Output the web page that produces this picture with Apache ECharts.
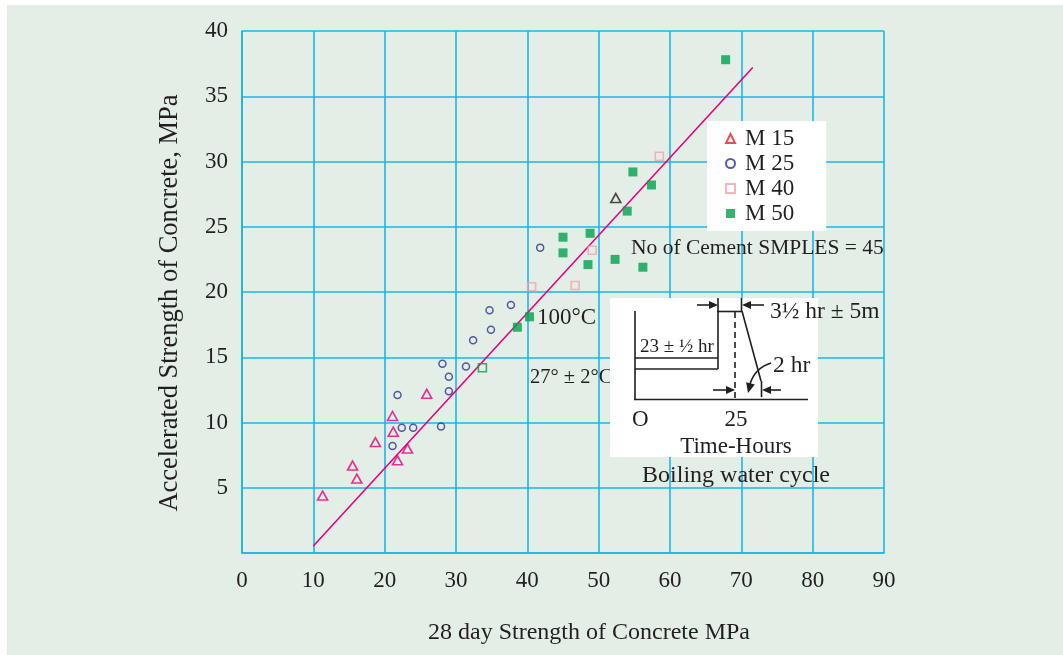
<!DOCTYPE html>
<html>
<head>
<meta charset="utf-8">
<script src="https://cdn.jsdelivr.net/npm/echarts@6/dist/echarts.min.js"></script>
<style>
html,body{margin:0;padding:0;background:#fff;}
#chart{width:1063px;height:655px;
background: linear-gradient(#fff,#fff) top left/100% 5px no-repeat, linear-gradient(#fff,#fff) top left/7px 100% no-repeat, #e3efe6;}
</style>
</head>
<body>
<div id="chart"></div>
<script>
// ---- data (x = 28 day strength MPa, y = accelerated strength MPa) ----
const m15 = [[25.9,12.2],[21.1,10.5],[21.2,9.3],[18.7,8.5],[23.2,8.0],[21.8,7.1],[15.5,6.7],[16.1,5.7],[11.3,4.4]];
const m15Odd = [[52.4,27.2]];
const m25 = [[34.7,18.6],[37.7,19.0],[34.9,17.1],[32.4,16.3],[28.1,14.5],[31.4,14.3],[29.0,13.5],[29.0,12.4],[21.8,12.1],[22.4,9.6],[24.0,9.6],[27.9,9.7],[21.1,8.2],[41.8,23.4]];
const m40 = [[58.5,30.4],[40.6,20.4],[46.7,20.5],[49.1,23.2]];
const m50 = [[67.8,37.8],[54.8,29.2],[57.4,28.2],[54.0,26.2],[48.8,24.5],[45.0,24.2],[45.0,23.0],[48.5,22.1],[52.3,22.5],[56.2,21.9],[40.3,18.1],[38.6,17.3]];
const m50Hollow = [[33.7,14.2]];
const fitLine = [[10.0,0.54],[71.6,37.2]];
const xTicks = [0,10,20,30,40,50,60,70,80,90];
const yTicks = [0,5,10,15,20,25,30,35,40];

const FONT = '"Liberation Serif", "DejaVu Serif", serif';
const TXT = '#231f20';
const BLUE = '#1cb4ea';

function arrowHead(tipX, tipY, dx, dy, len, half){
  const bx = tipX - dx*len, by = tipY - dy*len;
  const px = -dy, py = dx;
  return {type:'polygon', z:110, shape:{points:[[tipX,tipY],[bx+px*half,by+py*half],[bx-px*half,by-py*half]]}, style:{fill:'#231f20'}};
}
function line(x1,y1,x2,y2,extra){
  return Object.assign({type:'line', z:105, shape:{x1,y1,x2,y2}, style:{stroke:'#231f20', lineWidth:1.6}}, extra||{});
}
function text(str,x,y,size,align,extra){
  return Object.assign({type:'text', z:110, x, y, style:{text:str, font:size+'px '+FONT, fill:TXT, align:align||'left', verticalAlign:'middle'}}, extra||{});
}

const chart = echarts.init(document.getElementById('chart'));
const option = {
  backgroundColor: 'transparent',
  animation: false,
  grid: {left:242, top:31, width:642, height:522},
  xAxis: {
    type:'value', min:xTicks[0], max:xTicks[xTicks.length-1], interval:10,
    name:'28 day Strength of Concrete MPa', nameLocation:'middle', nameGap:68,
    nameTextStyle:{fontFamily:FONT, fontSize:24, color:TXT, padding:[0,0,0,52]},
    axisLine:{lineStyle:{color:BLUE, width:1.6}}, axisTick:{show:false},
    axisLabel:{fontFamily:FONT, fontSize:23, color:TXT, margin:16},
    splitLine:{lineStyle:{color:BLUE, width:1.6}}
  },
  yAxis: {
    type:'value', min:yTicks[0], max:yTicks[yTicks.length-1], interval:5,
    name:'Accelerated Strength of Concrete, MPa', nameLocation:'middle', nameGap:58,
    nameTextStyle:{fontFamily:FONT, fontSize:26.5, color:TXT, padding:[0,22,0,0]},
    axisLine:{show:true, lineStyle:{color:BLUE, width:1.6}}, axisTick:{show:false},
    axisLabel:{fontFamily:FONT, fontSize:23, color:TXT, margin:14, showMinLabel:false},
    splitLine:{lineStyle:{color:BLUE, width:1.6}}
  },
  legend: {
    orient:'vertical', left:707, top:121, width:119,
    backgroundColor:'#ffffff', padding:[6,32,6,18], itemGap:2,
    itemWidth:9, itemHeight:9,
    textStyle:{fontFamily:FONT, fontSize:23, color:TXT, padding:[0,0,0,5]},
    data:[
      {name:'M 15', itemStyle:{borderColor:'#ed1c24'}},
      {name:'M 25'},
      {name:'M 40'},
      {name:'M 50'}
    ]
  },
  series: [
    {type:'line', data:fitLine, symbol:'none', lineStyle:{color:'#e6007e', width:1.6}, z:3, silent:true},
    {name:'M 15', type:'scatter', symbol:'triangle', symbolSize:[10,9], z:4,
     itemStyle:{color:'rgba(0,0,0,0)', borderColor:'#e5007d', borderWidth:1.6},
     data: m15.concat(m15Odd.map(v=>({value:v, itemStyle:{borderColor:'#231f20'}})))},
    {name:'M 25', type:'scatter', symbol:'circle', symbolSize:7, z:4,
     itemStyle:{color:'rgba(0,0,0,0)', borderColor:'#2e3192', borderWidth:1.5},
     data: m25},
    {name:'M 40', type:'scatter', symbol:'rect', symbolSize:8, z:4,
     itemStyle:{color:'rgba(0,0,0,0)', borderColor:'#f4a3aa', borderWidth:1.6},
     data: m40},
    {name:'M 50', type:'scatter', symbol:'rect', symbolSize:9, z:4,
     itemStyle:{color:'#00a14b', borderColor:'#00a14b', borderWidth:0},
     data: m50.concat(m50Hollow.map(v=>({value:v, symbolSize:8, itemStyle:{color:'rgba(0,0,0,0)', borderColor:'#00a14b', borderWidth:1.6}})))}
  ],
  graphic: {elements: [
    text('100°C', 537, 318, 23, 'left', {z:50}),
    text('27° ± 2°C', 530, 378, 20.5, 'left', {z:50}),
    text('No of Cement SMPLES = 45', 631, 248, 21.5, 'left', {z:50}),
    {type:'rect', z:100, shape:{x:610, y:298, width:208, height:159}, style:{fill:'#ffffff'}},
    line(635,311,635,400),
    line(634,399.5,808,399.5),
    line(635,358,718,358),
    line(635,369,718,369),
    line(718,369,718,311),
    line(717,311.5,742,311.5),
    line(742,311,761,381),
    line(718,298,718,311),
    line(741.5,298,741.5,311),
    line(761.5,381,761.5,397),
    line(735,312,735,399, {style:{stroke:'#231f20', lineWidth:1.6, lineDash:[6,4]}}),
    line(697,305,712,305), arrowHead(718,305,1,0,9,4),
    line(764,305,748,305), arrowHead(742,305,-1,0,9,4),
    line(713,390,728,390), arrowHead(735,390,1,0,9,4),
    line(781,390,768,390), arrowHead(762,390,-1,0,9,4),
    {type:'bezierCurve', z:105, shape:{x1:771,y1:363, cpx1:755,cpy1:368, x2:750,y2:384}, style:{stroke:'#231f20', lineWidth:1.6, fill:null}},
    arrowHead(748,393,-0.25,0.97,10,4.5),
    text('23 ± ½ hr', 640, 347, 19),
    text('2 hr', 773, 366, 23.5),
    text('O', 632, 420, 23),
    text('25', 736, 420, 23, 'center'),
    text('Time-Hours', 736, 447, 23, 'center'),
    text('3½ hr ± 5m', 770, 312, 23.5, 'left', {z:110}),
    text('Boiling water cycle', 736, 476, 24, 'center')
  ]}
};
chart.setOption(option);
</script>
</body>
</html>
